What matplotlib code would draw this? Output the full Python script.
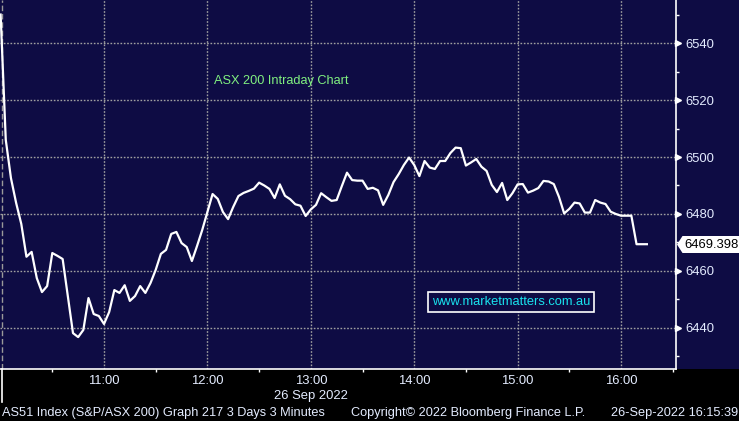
import numpy as np
import matplotlib
matplotlib.use('Agg')
import matplotlib.pyplot as plt
from matplotlib.patches import Rectangle, Polygon
from matplotlib.lines import Line2D

# ASX 200 3-minute bars, 26 Sep 2022 from 10:00
bar_minutes = 3
values = [
    6550.0, 6506.0, 6492.6, 6483.9, 6476.5, 6465.0, 6466.7, 6457.5, 6452.6, 6454.7,
    6466.3, 6465.3, 6464.2, 6451.2, 6438.2, 6436.8, 6439.3, 6450.5, 6444.9, 6444.2,
    6441.4, 6445.6, 6453.3, 6452.3, 6455.0, 6449.5, 6451.2, 6454.7, 6452.3, 6455.8,
    6460.4, 6466.0, 6467.4, 6473.0, 6473.7, 6469.8, 6468.4, 6463.5, 6468.8, 6474.4,
    6480.7, 6487.0, 6485.3, 6480.7, 6478.2, 6482.5, 6486.3, 6487.4, 6488.1, 6488.9,
    6491.0, 6490.0, 6488.8, 6485.6, 6490.4, 6486.4, 6485.2, 6483.4, 6482.9, 6479.3,
    6481.6, 6483.2, 6487.3, 6485.9, 6484.6, 6484.9, 6489.8, 6494.5, 6491.9, 6491.7,
    6491.7, 6488.8, 6489.2, 6488.3, 6483.2, 6486.7, 6491.2, 6494.0, 6497.2, 6499.8,
    6497.2, 6493.3, 6498.6, 6496.3, 6495.8, 6498.6, 6498.6, 6501.4, 6503.3, 6503.1,
    6497.0, 6498.1, 6499.3, 6496.6, 6495.1, 6490.2, 6487.7, 6490.9, 6484.9, 6487.3,
    6490.4, 6490.5, 6487.5, 6488.2, 6489.1, 6491.6, 6491.4, 6490.5, 6486.0, 6480.2,
    6481.8, 6484.0, 6483.7, 6480.5, 6480.5, 6484.9, 6484.0, 6483.5, 6480.8, 6480.0,
    6479.4, 6479.4, 6479.4, 6469.398, 6469.398, 6469.398,
]
last_price = 6469.398

hour_labels = ['11:00', '12:00', '13:00', '14:00', '15:00', '16:00']
hour_minutes = [60, 120, 180, 240, 300, 360]
half_hour_minutes = [30, 90, 150, 210, 270, 330, 390]
price_ticks = [6440, 6460, 6480, 6500, 6520, 6540]
price_minor = [6430, 6450, 6470, 6490, 6510, 6530, 6550]

date_label = '26 Sep 2022'
title = 'ASX 200 Intraday Chart'
watermark = 'www.marketmatters.com.au'
footer_left = 'AS51 Index (S&P/ASX 200) Graph 217 3 Days 3 Minutes'
footer_mid = 'Copyright\u00a9 2022 Bloomberg Finance L.P.'
footer_right = '26-Sep-2022 16:15:39'

NAVY = '#0e0c44'
TXT = '#e4ecff'
W, H = 739, 421

plt.rcParams['font.family'] = ['Liberation Sans', 'DejaVu Sans']


def fx(px):
    return px / W


def fy(py):
    return (H - py) / H


fig = plt.figure(figsize=(W / 100, H / 100), dpi=100)
fig.patch.set_facecolor('black')
fig.patches.append(Rectangle((0, fy(369)), 1, 1 - fy(369), transform=fig.transFigure,
                             facecolor=NAVY, edgecolor='none', zorder=-5))

ax = fig.add_axes([0, fy(369), fx(676), 369 / H])
ax.set_facecolor(NAVY)

t = np.arange(len(values)) * bar_minutes
ax.plot(t, values, color='white', lw=1.6, zorder=3, solid_joinstyle='round')

ax.set_xlim(-0.35, 391.9)
ax.set_ylim(6425.6, 6555.1)

# grid
for m in hour_minutes:
    ax.axvline(m, color='#a0a0a0', lw=1.0, ls=(0, (1.2, 1.2)), zorder=1)
for p in price_ticks:
    ax.axhline(p, color='#a0a0a0', lw=1.0, ls=(0, (1.2, 1.2)), zorder=1)
ax.axvline(0.6, color='#9a9a9a', lw=1.0, ls=(0, (4, 2)), zorder=1)

for s in ['top', 'left']:
    ax.spines[s].set_visible(False)
for s in ['right', 'bottom']:
    ax.spines[s].set_color('white')
    ax.spines[s].set_linewidth(1.2)

# y axis on the right
ax.yaxis.tick_right()
ax.set_yticks(price_ticks)
ax.set_yticklabels([str(p) for p in price_ticks])
ax.set_yticks(price_minor, minor=True)
ax.tick_params(axis='y', which='major', length=0, pad=6.5, labelcolor=TXT, labelsize=9.4)
ax.tick_params(axis='y', which='minor', length=2.5, width=1, color='white', direction='out')
ax.plot([1.0036] * len(price_ticks), price_ticks, ls='none', marker='>', ms=4.5,
        color='white', transform=ax.get_yaxis_transform(), clip_on=False, zorder=5)

# x axis
ax.set_xticks(hour_minutes)
ax.set_xticklabels(hour_labels)
ax.set_xticks(half_hour_minutes, minor=True)
ax.tick_params(axis='x', which='major', length=0, pad=4.2, labelcolor=TXT, labelsize=9.4)
ax.tick_params(axis='x', which='minor', length=2.5, width=1, color='white', direction='out')
fig.text(fx(311), fy(396), date_label, color=TXT, fontsize=9.4, ha='center', va='center')
fig.lines.append(Line2D([fx(1.5), fx(1.5)], [fy(369), fy(402)], transform=fig.transFigure,
                        color='white', lw=1.2))

# annotations
ax.text(fx(214) / fx(676), 1 - 81 / 369, title, transform=ax.transAxes, color='#80f080',
        fontsize=9.2, ha='left', va='center')
fig.patches.append(Rectangle((fx(428), fy(312)), fx(594) - fx(428), fy(292) - fy(312),
                             transform=fig.transFigure, facecolor=NAVY, edgecolor='white',
                             lw=1.2, zorder=4))
fig.text(fx(511), fy(302), watermark, color='#19e3ee', fontsize=9.3, ha='center',
         va='center', zorder=5)

# last price tag
tag = [(677, 244.5), (682.5, 236), (739, 236), (739, 253), (682.5, 253)]
fig.patches.append(Polygon([(fx(a), fy(b)) for a, b in tag], closed=True,
                           transform=fig.transFigure, facecolor='white', edgecolor='none',
                           zorder=5))
fig.text(fx(684), fy(244.5), f'{last_price:.3f}', color='black', fontsize=9.4,
         ha='left', va='center', zorder=6)

# footer
fig.text(fx(2), fy(413), footer_left, color=TXT, fontsize=9.2, ha='left', va='center')
fig.text(fx(351), fy(413), footer_mid, color=TXT, fontsize=9.2, ha='left', va='center')
fig.text(fx(738), fy(413), footer_right, color=TXT, fontsize=9.2, ha='right', va='center')

fig.savefig('out.png', dpi=100, facecolor='black')
